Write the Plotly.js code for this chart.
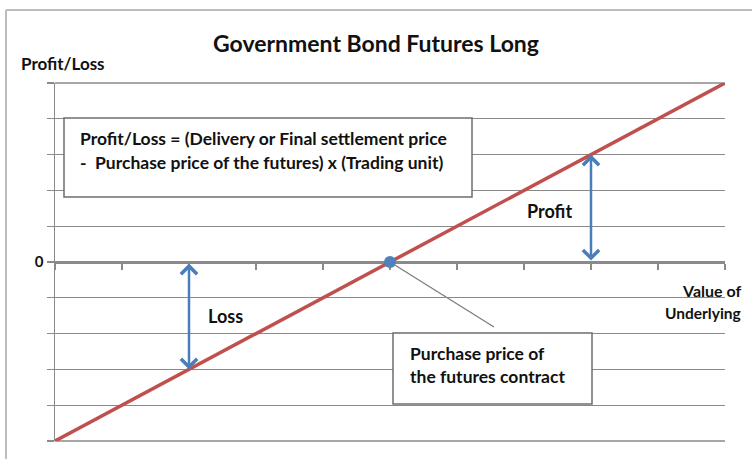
<!DOCTYPE html>
<html>
<head>
<meta charset="utf-8">
<script src="https://cdn.plot.ly/plotly-3.0.1.min.js"></script>
<style>
html,body{margin:0;padding:0;background:#fff;}
#chart{width:752px;height:459px;}
</style>
</head>
<body>
<div id="chart"></div>
<script>
// ---- data ----
var underlyingX = [0, 10];
var profitLossY = [-5, 5];
var purchaseX = [5];
var purchaseY = [0];
var arrowX = [2, 8];
var arrowY = [-3, 3];
var xTicks = [0, 1, 2, 3, 4, 5, 6, 7, 8, 9, 10];
var yTicks = [-5, -4, -3, -2, -1, 0, 1, 2, 3, 4, 5];
var yTickText = ['', '', '', '', '', '0', '', '', '', '', ''];
var titleText = 'Government Bond Futures Long';
var formulaLines = ['Profit/Loss = (Delivery or Final settlement price',
                    '-&nbsp; Purchase price of the futures) x (Trading unit)'];
var purchaseLines = ['Purchase price of', 'the futures contract'];
var xTitleLines = ['Value of', 'Underlying'];

// ---- layout helpers (pixel -> paper) ----
var L = 55, R = 725, T = 83, B = 441;
var unitPx = (B - T) / 10;
function px(x){ return (x - L) / (R - L); }
function py(y){ return (B - y) / (B - T); }

var FONT = 'Lato, "Open Sans", sans-serif';
var gray = '#8a8a8a';
var boxGray = '#6e6e6e';
var blue = '#4a7ebb';

var traces = [
  {x: underlyingX, y: profitLossY, type: 'scatter', mode: 'lines',
   line: {color: '#c0504d', width: 3.5}, hoverinfo: 'skip', cliponaxis: false},
  {x: purchaseX, y: purchaseY, type: 'scatter', mode: 'markers',
   marker: {color: '#4f81bd', size: 12}, hoverinfo: 'skip', cliponaxis: false}
];

function txt(text, x, y, xanchor, size){
  return {text: '<b>' + text + '</b>', xref: 'paper', yref: 'paper',
          x: px(x), y: py(y), xanchor: xanchor || 'left', yanchor: 'middle',
          showarrow: false, font: {family: FONT, size: size || 17.5, color: '#111'}};
}

var annotations = [
  txt('Profit/Loss', 19, 64, 'left', 17),
  txt(xTitleLines[0], 743, 290, 'right', 16),
  txt(xTitleLines[1], 743, 313, 'right', 15.5),
  txt(formulaLines[0], 78, 139),
  txt(formulaLines[1], 78, 162),
  txt(purchaseLines[0], 408, 353),
  txt(purchaseLines[1], 408, 376),
  txt('Profit', 525, 211, 'left', 18),
  txt('Loss', 206, 316, 'left', 18)
];
// double-headed arrows, from zero line to the P/L line
for (var i = 0; i < arrowX.length; i++) {
  annotations.push({
    x: arrowX[i], y: arrowY[i], ax: arrowX[i], ay: 0,
    xref: 'x', yref: 'y', axref: 'x', ayref: 'y', text: '',
    showarrow: true, arrowside: 'end+start',
    arrowhead: 4, startarrowhead: 4, arrowsize: 1.25, startarrowsize: 1.25,
    arrowwidth: 2.5, arrowcolor: blue, standoff: 0, startstandoff: 0
  });
}

var shapes = [
  // outer chart frame
  {type: 'line', xref: 'paper', yref: 'paper', x0: px(6), x1: px(6), y0: py(470), y1: py(10),
   line: {color: '#bdbdbd', width: 2}},
  {type: 'line', xref: 'paper', yref: 'paper', x0: px(6), x1: px(760), y0: py(10), y1: py(10),
   line: {color: '#bdbdbd', width: 2}},
  // gridlines at the top and bottom edges of the plot area
  {type: 'line', xref: 'paper', yref: 'paper', x0: 0, x1: 1, y0: 0, y1: 0,
   line: {color: gray, width: 1.3}, layer: 'below'},
  {type: 'line', xref: 'paper', yref: 'paper', x0: 0, x1: 1, y0: 1, y1: 1,
   line: {color: gray, width: 1.3}, layer: 'below'},
  // text boxes
  {type: 'rect', xref: 'paper', yref: 'paper', x0: px(64), x1: px(472), y0: py(197), y1: py(118),
   fillcolor: '#fff', line: {color: boxGray, width: 1.5}, layer: 'above'},
  {type: 'rect', xref: 'paper', yref: 'paper', x0: px(393), x1: px(592), y0: py(404), y1: py(333),
   fillcolor: '#fff', line: {color: boxGray, width: 1.5}, layer: 'above'},
  // connector from purchase point to its label box
  {type: 'line', xref: 'x', yref: 'y', x0: purchaseX[0], y0: purchaseY[0],
   x1: 5 + (494 - 390) / 67, y1: -(327 - 262) / unitPx,
   line: {color: '#7a7a7a', width: 1.2}, layer: 'below'}
];

var layout = {
  width: 752, height: 459,
  margin: {l: L, r: 752 - R, t: T, b: 459 - B, pad: 0},
  paper_bgcolor: 'rgba(0,0,0,0)', plot_bgcolor: 'rgba(0,0,0,0)',
  showlegend: false,
  title: {text: '<b>' + titleText + '</b>', x: 0.5, xref: 'container', xanchor: 'center',
          y: 1 - 44 / 459, yref: 'container', yanchor: 'middle',
          font: {family: FONT, size: 23, color: '#111'}},
  xaxis: {range: [0, 10], tickvals: xTicks, ticks: 'outside', ticklen: 6, tickwidth: 1.3,
          tickcolor: gray, showticklabels: false, showgrid: false, zeroline: false,
          showline: true, linecolor: gray, linewidth: 1.5, anchor: 'free', position: 0.5,
          layer: 'below traces', fixedrange: true},
  yaxis: {range: [-5, 5], tickvals: yTicks, ticktext: yTickText, ticks: 'outside', ticklen: 7,
          tickwidth: 1.3, tickcolor: gray, showgrid: true, gridcolor: gray, gridwidth: 1.3,
          zeroline: false, showline: true, linecolor: gray, linewidth: 1.5, layer: 'below traces',
          tickfont: {family: FONT, size: 15, color: '#111', weight: 'bold'}, fixedrange: true},
  annotations: annotations,
  shapes: shapes
};

Plotly.newPlot('chart', traces, layout, {displayModeBar: false, staticPlot: true});
</script>
</body>
</html>
